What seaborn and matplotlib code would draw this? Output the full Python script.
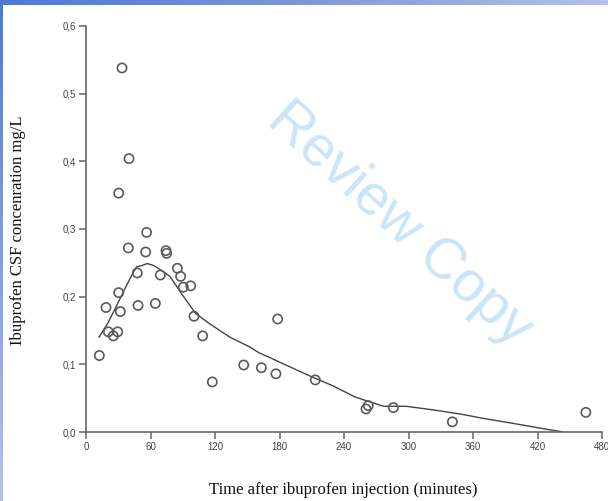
import numpy as np
import pandas as pd
import seaborn as sns
import matplotlib.pyplot as plt
import matplotlib.ticker as mtick
from matplotlib.colors import LinearSegmentedColormap

# observed CSF concentrations (minutes, mg/L)
obs_time = [12.4, 18.6, 20.8, 25.4, 29.5, 30.4, 31.9, 30.4, 33.5, 39.4, 40.0,
            47.7, 48.4, 55.5, 56.4, 64.5, 69.1, 74.4, 75.0, 85.0, 88.0, 90.5,
            97.4, 100.5, 108.5, 117.5, 146.7, 163.1, 176.7, 178.3, 213.3,
            260.5, 262.6, 285.9, 340.8, 465.0]
obs_conc = [0.113, 0.184, 0.148, 0.142, 0.148, 0.206, 0.178, 0.353, 0.538,
            0.272, 0.404, 0.235, 0.187, 0.266, 0.295, 0.190, 0.232, 0.268,
            0.264, 0.242, 0.230, 0.214, 0.216, 0.171, 0.142, 0.074, 0.099,
            0.095, 0.086, 0.167, 0.077, 0.034, 0.039, 0.036, 0.015, 0.029]

# smoothed curve
fit_time = [12, 20, 28, 35, 42, 47, 52, 57, 63, 68, 78, 90, 102, 115, 134,
            143, 152, 161, 171, 190, 208, 230, 250, 265, 277, 298, 326, 350,
            370, 400, 425, 444]
fit_conc = [0.140, 0.160, 0.185, 0.208, 0.230, 0.244, 0.246, 0.249, 0.246,
            0.241, 0.230, 0.202, 0.175, 0.160, 0.140, 0.133, 0.126, 0.117,
            0.110, 0.096, 0.083, 0.068, 0.052, 0.044, 0.038, 0.038, 0.032,
            0.026, 0.020, 0.012, 0.005, 0.0]

x_ticks = [0, 60, 120, 180, 240, 300, 360, 420, 480]
y_ticks = [0.0, 0.1, 0.2, 0.3, 0.4, 0.5, 0.6]

obs = pd.DataFrame({'time': obs_time, 'conc': obs_conc})
fit = pd.DataFrame({'time': fit_time, 'conc': fit_conc})

sns.set_theme(style="ticks")
plt.rcParams['font.family'] = ['Liberation Sans', 'DejaVu Sans']

fig = plt.figure(figsize=(6.08, 5.01), dpi=100)
fig.patch.set_facecolor('white')
ax = fig.add_axes([86 / 608, 69 / 501, 516 / 608, 406 / 501])

sns.lineplot(data=fit, x='time', y='conc', color='#444444', linewidth=1.0,
             sort=False, ax=ax)
sns.scatterplot(data=obs, x='time', y='conc', s=44, facecolor='none',
                edgecolor='#5a5a5a', linewidth=1.2, ax=ax, zorder=3)

ax.set_xlim(0, 480)
ax.set_ylim(0, 0.6)
ax.set_xticks(x_ticks)
ax.set_yticks(y_ticks)
ax.yaxis.set_major_formatter(mtick.FuncFormatter(lambda v, p: f"{v:.1f}".replace('.', ',')))
ax.tick_params(axis='both', labelsize=7, colors='#666666', labelcolor='#444444',
               length=5, width=1.1, pad=2)
for s in ['top', 'right']:
    ax.spines[s].set_visible(False)
for s in ['left', 'bottom']:
    ax.spines[s].set_color('#666666')
    ax.spines[s].set_linewidth(1.2)
ax.set_xlabel('')
ax.set_ylabel('')

fig.text(343 / 608, 1 - 490 / 501, 'Time after ibuprofen injection (minutes)',
         family='Liberation Serif', fontsize=12, ha='center', va='center', color='#111111')
fig.text(18 / 608, 1 - 230 / 501, 'Ibuprofen CSF concenration mg/L',
         family='Liberation Serif', fontsize=12, ha='center', va='center',
         rotation=90, color='#111111')

# watermark
fig.text(400 / 608, 1 - 224 / 501, 'Review Copy', fontsize=41, color='#cbe5f8',
         rotation=-42, ha='center', va='center', rotation_mode='anchor', zorder=0)

# blue frame gradients
top = fig.add_axes([0, 1 - 5 / 501, 1, 5 / 501])
top.imshow(np.linspace(0, 1, 256)[None, :], aspect='auto',
           cmap=LinearSegmentedColormap.from_list('t', ['#4a7ad4', '#7f97d8', '#b2c2e8']))
top.axis('off')
left = fig.add_axes([0, 0, 3 / 608, 1])
left.imshow(np.linspace(0, 1, 256)[:, None], aspect='auto',
            cmap=LinearSegmentedColormap.from_list('l', ['#4a7ad4', '#b4c2ea']))
left.axis('off')

fig.savefig('out.png', dpi=100)
